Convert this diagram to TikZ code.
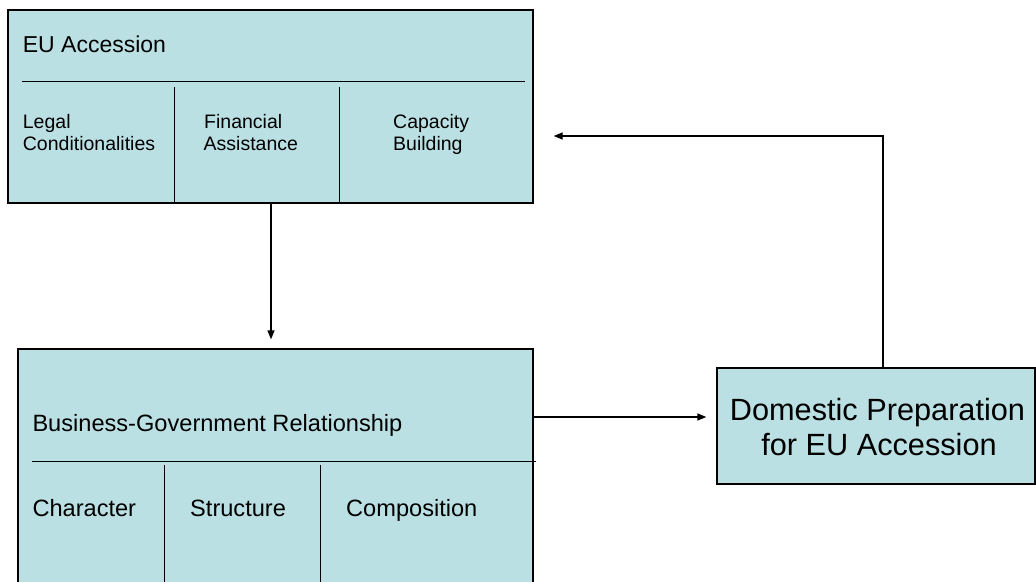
\documentclass[tikz,border=0pt]{standalone}
\usepackage{fontspec}
\setmainfont{Liberation Sans}
\usetikzlibrary{arrows.meta}
\definecolor{boxfill}{RGB}{187,224,227}
\begin{document}
\begin{tikzpicture}[x=1pt,y=-1pt,
  box/.style={draw=black, fill=boxfill, line width=1.3pt, rectangle, inner sep=0pt},
  arr/.style={-{Triangle[length=9pt,width=7pt]}, line width=1.3pt},
  sep/.style={line width=0.9pt},
  lbl/.style={anchor=base west, inner sep=0pt, font=\fontsize{23}{27}\selectfont},
  lblb/.style={anchor=base west, inner sep=0pt, font=\fontsize{23.6}{27}\selectfont},
  small/.style={anchor=base west, inner sep=0pt, font=\fontsize{19.5}{22}\selectfont},
  big/.style={anchor=base, inner sep=0pt, font=\fontsize{30.7}{34}\selectfont}]
\useasboundingbox (0,0) rectangle (1036,581);
\clip (0,0) rectangle (1036,581);
% boxes
\node[box, minimum width=525pt, minimum height=193pt] (eu) at (270.5,106.5) {};
\node[box, minimum width=515pt, minimum height=271pt] (bg) at (275.5,484.5) {};
\node[box, minimum width=318pt, minimum height=116pt] (dom) at (876,426) {};
% EU Accession box contents
\node[lbl] (eut) at (22.7,52.7) {EU Accession};
\draw[sep] (22,81) -- (525,81);
\coordinate (v1) at (174,87);
\coordinate (v2) at (339,87);
\draw[sep] (v1) -- (v1 |- eu.south);
\draw[sep] (v2) -- (v2 |- eu.south);
\node[small] (l1) at (22.7,128.3) {Legal};
\node[small] (l2) at (22.7,150) {Conditionalities};
\node[small] (f1) at (204,128.3) {Financial};
\node[small] (f2) at (203.5,150) {Assistance};
\node[small] (c1) at (393,128.3) {Capacity};
\node[small] (c2) at (393,150) {Building};
% Business-Government box contents
\node[lblb] (bgt) at (32.3,431) {Business-Government Relationship};
\draw[sep] (32,461) -- (535.6,461);
\draw[sep] (164,465) -- (164,600);
\draw[sep] (320,465) -- (320,600);
\node[lblb] (ch) at (32.3,516.7) {Character};
\node[lblb] (st) at (190,516.7) {Structure};
\node[lblb] (co) at (346,516.7) {Composition};
% Domestic box text
\node[big] (d1) at (877.5,420.7) {Domestic Preparation};
\node[big] (d2) at (879,455) {for EU Accession};
% connectors
\coordinate (dx) at (271,0);
\coordinate (dtip) at ([yshift=9pt]bg.north);
\draw[arr] (eu.south -| dx) -- (dtip -| dx);
\coordinate (hy) at (0,417);
\coordinate (rtip) at ([xshift=-10pt]dom.west);
\draw[arr] (bg.east |- hy) -- (rtip |- hy);
\coordinate (fx) at (883,0);
\coordinate (fy) at (0,136);
\coordinate (ftip) at ([xshift=20pt]eu.east);
\draw[arr] (dom.north -| fx) -- (fx |- fy) -- (ftip |- fy);
\end{tikzpicture}
\end{document}
